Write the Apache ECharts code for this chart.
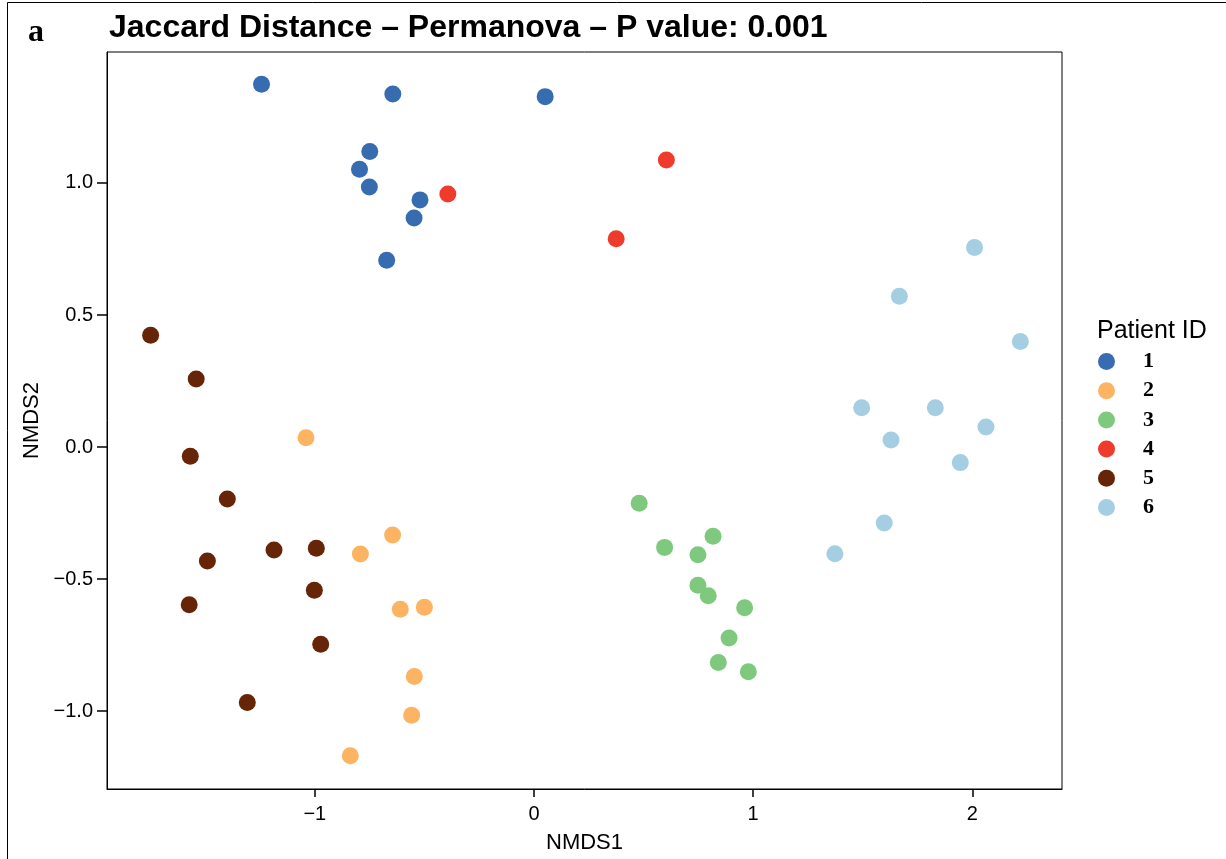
<!DOCTYPE html>
<html>
<head>
<meta charset="utf-8">
<script src="https://cdn.jsdelivr.net/npm/echarts@6/dist/echarts.min.js"></script>
<style>
html,body{margin:0;padding:0;background:#fff;}
#chart{width:1226px;height:859px;}
</style>
</head>
<body>
<div id="chart"></div>
<script>
// Patient IDs
const patients = ['1', '2', '3', '4', '5', '6'];
const colors = ['#386CB0', '#FDB462', '#7FC97F', '#EF3B2C', '#662506', '#A6CEE3'];

// NMDS coordinates per patient
const p1_nmds1 = [-1.243, -0.644, 0.051, -0.749, -0.796, -0.751, -0.520, -0.547, -0.672];
const p1_nmds2 = [1.374, 1.337, 1.327, 1.119, 1.052, 0.985, 0.936, 0.867, 0.707];

const p2_nmds1 = [-1.040, -0.645, -0.792, -0.610, -0.500, -0.546, -0.558, -0.838];
const p2_nmds2 = [0.035, -0.333, -0.405, -0.614, -0.607, -0.869, -1.016, -1.169];

const p3_nmds1 = [0.480, 0.596, 0.817, 0.748, 0.748, 0.795, 0.961, 0.890, 0.841, 0.978];
const p3_nmds2 = [-0.213, -0.380, -0.338, -0.408, -0.523, -0.563, -0.609, -0.723, -0.816, -0.851];

const p4_nmds1 = [-0.393, 0.604, 0.375];
const p4_nmds2 = [0.958, 1.087, 0.789];

const p5_nmds1 = [-1.749, -1.541, -1.568, -1.399, -1.490, -1.186, -0.993, -1.002, -1.573, -0.973, -1.308];
const p5_nmds2 = [0.423, 0.258, -0.035, -0.197, -0.432, -0.390, -0.383, -0.542, -0.597, -0.747, -0.967];

const p6_nmds1 = [2.010, 1.667, 2.219, 1.495, 1.831, 2.062, 1.629, 1.945, 1.598, 1.373];
const p6_nmds2 = [0.756, 0.571, 0.400, 0.149, 0.149, 0.076, 0.027, -0.059, -0.288, -0.404];

// Tick labels
const xTicks = [-1, 0, 1, 2];
const yTicks = [-1.0, -0.5, 0.0, 0.5, 1.0];

const xs = [p1_nmds1, p2_nmds1, p3_nmds1, p4_nmds1, p5_nmds1, p6_nmds1];
const ys = [p1_nmds2, p2_nmds2, p3_nmds2, p4_nmds2, p5_nmds2, p6_nmds2];

const sans = '"Liberation Sans", Arial, Helvetica, sans-serif';
const serif = '"Liberation Serif", "DejaVu Serif", serif';
const minus = v => String(v).replace('-', '\u2212');

const series = patients.map((p, i) => ({
  name: p,
  type: 'scatter',
  symbol: 'circle',
  symbolSize: 17,
  itemStyle: { color: colors[i], opacity: 1 },
  data: xs[i].map((x, j) => [x, ys[i][j]]),
  z: 3
}));

const chart = echarts.init(document.getElementById('chart'), null, { renderer: 'canvas' });
chart.setOption({
  backgroundColor: '#fff',
  animation: false,
  title: [
    { text: 'Jaccard Distance \u2013 Permanova \u2013 P value: 0.001', left: 104, top: 7,
      textStyle: { fontFamily: sans, fontWeight: 'bold', fontSize: 32, color: '#000' } },
    { text: 'a', left: 23, top: 12,
      textStyle: { fontFamily: serif, fontWeight: 'bold', fontSize: 32, color: '#000' } },
    { text: 'Patient ID', left: 1092, top: 314,
      textStyle: { fontFamily: sans, fontWeight: 'normal', fontSize: 25, color: '#000' } }
  ],
  legend: {
    orient: 'vertical',
    left: 1098,
    top: 350.5,
    padding: 0,
    itemWidth: 17,
    itemHeight: 17,
    itemGap: 7.2,
    icon: 'circle',
    data: patients,
    textStyle: { fontFamily: serif, fontWeight: 'bold', fontSize: 22, color: '#000', padding: [0, 0, 0, 23] }
  },
  grid: {
    left: 107, right: 164, top: 52, bottom: 70,
    outerBoundsMode: 'none', containLabel: false,
    show: true, borderColor: '#000', borderWidth: 1, backgroundColor: 'transparent'
  },
  xAxis: {
    type: 'value',
    min: -1.948, max: 2.409,
    name: 'NMDS1', nameLocation: 'middle', nameGap: 43,
    nameTextStyle: { fontFamily: sans, fontSize: 22, color: '#000' },
    splitLine: { show: false },
    axisLine: { show: true, onZero: false, lineStyle: { color: '#000', width: 1 } },
    axisTick: { show: true, length: 8, lineStyle: { color: '#000', width: 1.5 }, customValues: xTicks },
    axisLabel: { fontFamily: sans, fontSize: 20, color: '#000', margin: 15, customValues: xTicks,
      formatter: v => minus(v) }
  },
  yAxis: {
    type: 'value',
    min: -1.295, max: 1.496,
    name: 'NMDS2', nameLocation: 'middle', nameGap: 60,
    nameTextStyle: { fontFamily: sans, fontSize: 22, color: '#000' },
    splitLine: { show: false },
    axisLine: { show: true, onZero: false, lineStyle: { color: '#000', width: 1 } },
    axisTick: { show: true, length: 10, lineStyle: { color: '#000', width: 1.5 }, customValues: yTicks },
    axisLabel: { fontFamily: sans, fontSize: 20, color: '#000', margin: 14, customValues: yTicks,
      formatter: v => minus(Number(v).toFixed(1)) }
  },
  graphic: [
    { type: 'line', shape: { x1: 7.5, y1: 2.5, x2: 1226, y2: 2.5 }, style: { stroke: '#000', lineWidth: 1 }, silent: true },
    { type: 'line', shape: { x1: 7.5, y1: 2.5, x2: 7.5, y2: 859 }, style: { stroke: '#000', lineWidth: 1 }, silent: true }
  ],
  series: series
});
</script>
</body>
</html>
